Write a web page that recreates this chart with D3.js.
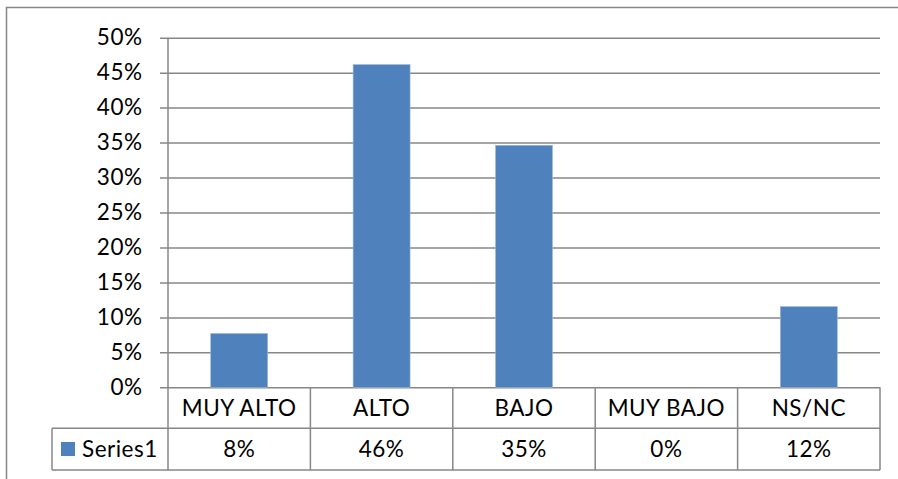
<!DOCTYPE html>
<html>
<head>
<meta charset="utf-8">
<script src="https://cdn.jsdelivr.net/npm/d3@7"></script>
<style>
  html, body { margin: 0; padding: 0; background: #fff; }
  svg { display: block; }
  text { font-family: Lato, "Open Sans", sans-serif; fill: #000; letter-spacing: 0.5px; }
</style>
</head>
<body>
<svg id="chart" width="898" height="479"></svg>
<script>
// Survey shares per response level (26 respondents)
const categories = ["MUY ALTO", "ALTO", "BAJO", "MUY BAJO", "NS/NC"];
const series1 = [2 / 26, 12 / 26, 9 / 26, 0, 3 / 26];
const seriesName = "Series1";
const yTicks = [0, 0.05, 0.1, 0.15, 0.2, 0.25, 0.3, 0.35, 0.4, 0.45, 0.5];

const W = 898, H = 479;
const plot = { left: 168, right: 880, top: 37.7, bottom: 387.3 };
const row1Bottom = 428.3, row2Bottom = 470, tableLeft = 52;
const gridColor = "#878787";
const barColor = "#4F81BD";
const fontSize = 22.5;

const svg = d3.select("#chart");

// outer chart frame
svg.append("path")
  .attr("d", `M6.5,${H} V7.5 H${W}`)
  .attr("fill", "none")
  .attr("stroke", gridColor)
  .attr("stroke-width", 1.5);

const x = d3.scaleBand()
  .domain(categories)
  .range([plot.left, plot.right])
  .paddingInner(0.6)
  .paddingOuter(0.3);

const y = d3.scaleLinear()
  .domain([0, 0.5])
  .range([plot.bottom, plot.top]);

const pct = d3.format(".0%");

// horizontal gridlines with short outside ticks
const yAxis = d3.axisLeft(y)
  .tickValues(yTicks)
  .tickFormat(pct)
  .tickSizeInner(-(plot.right - plot.left))
  .tickSizeOuter(0)
  .tickPadding(25.5);

const gy = svg.append("g")
  .attr("transform", `translate(${plot.left},0)`)
  .call(yAxis);
gy.select(".domain").remove();
gy.selectAll(".tick line")
  .attr("x1", -8)
  .attr("stroke", gridColor)
  .attr("stroke-width", 1.5);
gy.selectAll(".tick text")
  .attr("font-size", fontSize)
  .attr("font-family", "Lato, 'Open Sans', sans-serif")
  .attr("fill", "#000");

// bars
svg.append("g")
  .selectAll("rect")
  .data(categories)
  .join("rect")
  .attr("x", d => x(d))
  .attr("width", x.bandwidth())
  .attr("y", (d, i) => y(series1[i]))
  .attr("height", (d, i) => y(0) - y(series1[i]))
  .attr("fill", barColor)
  .attr("stroke", "#9DB8DA")
  .attr("stroke-width", 0.6);

// data table below the plot
const table = svg.append("g")
  .attr("stroke", gridColor)
  .attr("stroke-width", 1.5)
  .attr("fill", "none");

// vertical axis line through the table
table.append("line")
  .attr("x1", plot.left).attr("x2", plot.left)
  .attr("y1", plot.top).attr("y2", row2Bottom);

// column separators
const step = x.step();
const colEdges = categories.map(c => x(c) + x.bandwidth() / 2 + step / 2);
table.selectAll("line.col")
  .data(colEdges)
  .join("line")
  .attr("class", "col")
  .attr("x1", d => d).attr("x2", d => d)
  .attr("y1", plot.bottom).attr("y2", row2Bottom);

// row lines
table.append("line")
  .attr("x1", tableLeft).attr("x2", plot.right)
  .attr("y1", row1Bottom).attr("y2", row1Bottom);
table.append("line")
  .attr("x1", tableLeft).attr("x2", plot.right)
  .attr("y1", row2Bottom).attr("y2", row2Bottom);
table.append("line")
  .attr("x1", tableLeft).attr("x2", tableLeft)
  .attr("y1", row1Bottom).attr("y2", row2Bottom);

// category labels
svg.append("g")
  .selectAll("text")
  .data(categories)
  .join("text")
  .attr("x", d => x(d) + x.bandwidth() / 2)
  .attr("y", 415.5)
  .attr("text-anchor", "middle")
  .attr("font-size", fontSize)
  .text(d => d);

// value labels
svg.append("g")
  .selectAll("text")
  .data(series1)
  .join("text")
  .attr("x", (d, i) => x(categories[i]) + x.bandwidth() / 2)
  .attr("y", 456.7)
  .attr("text-anchor", "middle")
  .attr("font-size", fontSize)
  .text(d => pct(d));

// legend key
svg.append("rect")
  .attr("x", 61).attr("y", 442)
  .attr("width", 14).attr("height", 14)
  .attr("fill", barColor);
svg.append("text")
  .attr("x", 82)
  .attr("y", 456.7)
  .attr("font-size", fontSize)
  .text(seriesName);
</script>
</body>
</html>
